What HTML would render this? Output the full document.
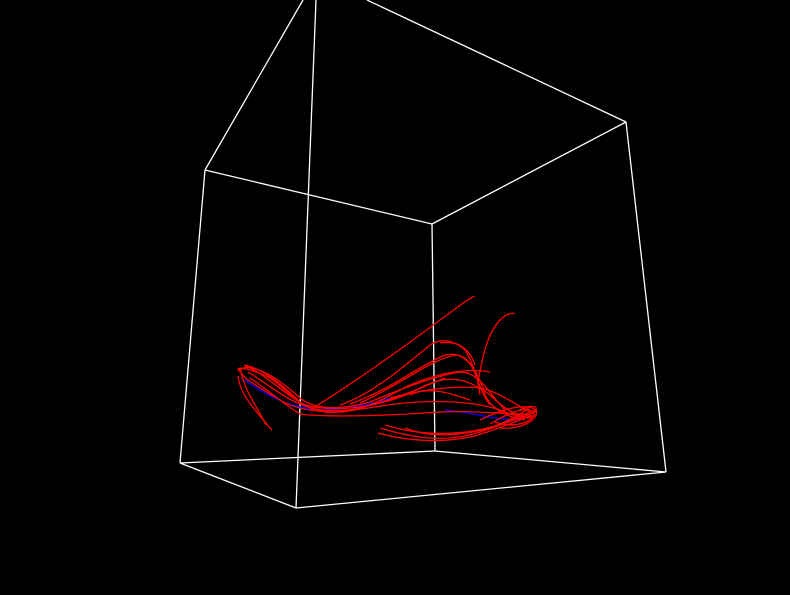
<!DOCTYPE html>
<html><head><meta charset="utf-8"><style>
html,body{margin:0;padding:0;background:#000;}
svg{display:block;}
</style></head><body>
<svg id="chart" width="790" height="595" viewBox="0 0 790 595" xmlns="http://www.w3.org/2000/svg">
<rect x="0" y="0" width="790" height="595" fill="#000"/>
<g id="box" stroke="#fff" stroke-width="1.3" fill="none"></g>
<g id="lines" fill="none" stroke-width="1.3"></g>
</svg>
<script>
const boxEdges = [
  [205,170,303,0],[316,0,296,508],[367,0,626,122],[626,122,432,224],
  [432,224,205,170],[205,170,180,463],[180,463,296,508],[296,508,666,472],
  [666,472,626,122],[432,224,435,451],[180,463,435,451],[435,451,666,472]
];
const redPaths = [
  "M240,372 C232,365 250,368 270,378 C290,392 300,408 325,412 C360,415 380,400 410,385 C440,372 470,368 490,372",
  "M242,368 C236,375 255,385 280,400 C300,412 330,414 360,408 C400,398 420,388 445,378",
  "M238,376 C240,395 255,410 272,430",
  "M241,372 C245,392 258,408 266,425",
  "M245,366 C260,370 285,395 305,405 C340,414 390,405 420,388 C450,372 470,380 490,395 C505,410 520,418 532,418",
  "M248,372 C270,385 290,405 320,410 C350,413 365,408 395,404 C430,400 470,400 500,410 C520,418 530,420 535,415",
  "M250,378 C268,390 285,405 300,414 C330,418 400,415 440,412 C480,410 510,415 528,414",
  "M239,370 C250,362 275,375 300,398 C315,410 340,410 370,402",
  "M244,365 C262,368 282,385 298,400",
  "M310,410 C350,385 400,350 440,320 C455,310 465,300 475,296",
  "M340,405 C370,395 400,370 430,345 C440,338 455,340 465,350 C475,365 478,390 490,405",
  "M350,404 C390,390 420,365 445,355 C465,350 478,370 485,395 C492,410 510,418 525,420",
  "M360,403 C400,385 430,360 455,355 C470,355 478,375 480,395",
  "M370,402 C410,385 440,375 460,372 C480,372 490,395 505,410",
  "M390,398 C420,390 455,385 480,388 C500,392 515,405 530,412",
  "M410,395 C430,385 455,395 470,400",
  "M440,343 C460,340 470,350 475,365",
  "M478,382 C482,360 486,335 500,320 C506,314 512,312 515,314",
  "M380,428 C420,440 450,442 480,432 C505,424 525,416 535,412 C540,405 530,405 520,410",
  "M378,433 C410,442 445,443 475,436 C500,428 520,420 532,415",
  "M385,425 C420,436 460,436 495,426 C515,418 528,410 530,406",
  "M405,428 C430,438 460,436 490,428 C510,420 530,412 536,410",
  "M480,420 C500,410 525,402 536,410 C540,420 520,430 500,428",
  "M490,424 C510,412 530,404 534,414 C532,424 510,428 495,422"
];
const bluePaths = [
  "M245,380 C265,395 290,408 320,410 C350,410 380,402 400,395",
  "M445,410 C470,412 495,420 520,420"
];
const NS="http://www.w3.org/2000/svg";
const box=document.getElementById('box');
boxEdges.forEach(e=>{
  const l=document.createElementNS(NS,'line');
  l.setAttribute('x1',e[0]);l.setAttribute('y1',e[1]);l.setAttribute('x2',e[2]);l.setAttribute('y2',e[3]);
  
  
  box.appendChild(l);
});
const g=document.getElementById('lines');
bluePaths.forEach(d=>{
  const p=document.createElementNS(NS,'path');
  p.setAttribute('d',d);p.setAttribute('stroke','#00f');
  
  
  g.appendChild(p);
});
redPaths.forEach(d=>{
  const p=document.createElementNS(NS,'path');
  p.setAttribute('d',d);p.setAttribute('stroke','#f00');
  
  
  g.appendChild(p);
});
</script>
</body></html>
